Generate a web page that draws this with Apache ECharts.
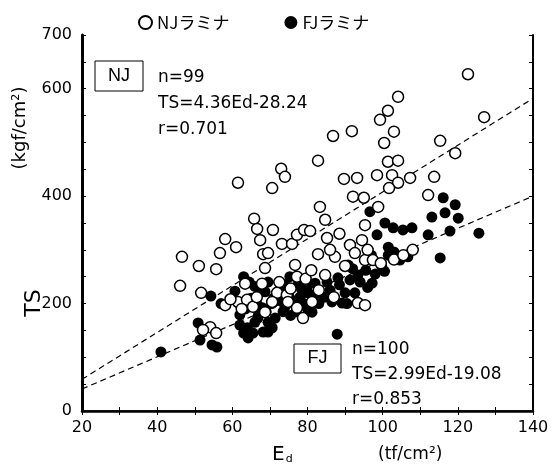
<!DOCTYPE html>
<html><head><meta charset="utf-8">
<script src="https://cdn.jsdelivr.net/npm/echarts@6/dist/echarts.min.js"></script>
<style>html,body{margin:0;padding:0;background:#fff}#c{width:554px;height:472px}</style>
</head><body><div id="c"></div>
<script>
// NJ laminae (open circles)
const njEd = [122.7,104.1,101.4,99.3,103.0,100.4,91.8,86.8,82.8,73.0,74.0,70.6,89.7,93.2,98.5,101.4,104.1,102.5,104.1,101.7,
  92.1,95.0,98.8,83.3,61.5,127.0,115.3,119.3,107.3,113.7,112.1,65.8,66.6,67.4,58.1,61.0,56.7,46.6,51.1,55.7,
  68.2,68.7,67.9,63.4,46.1,51.7,58.1,61.5,63.9,65.5,54.1,52.2,55.7,84.7,85.2,95.3,70.8,73.2,75.9,77.2,
  79.1,80.7,91.3,94.5,92.6,95.3,97.4,82.8,87.3,76.7,77.2,84.7,69.5,71.9,74.5,74.8,77.2,81.2,78.8,93.4,
  95.3,70.6,68.7,62.5,66.5,59.5,72.5,75.5,79.5,81.0,86.0,88.5,90.0,96.0,99.5,103.0,105.5,108.0,83.0,87.0];
const njTS = [627,585,559,542,520,499,521,512,466,451,436,415,432,434,439,464,466,439,425,415,
  399,397,380,380,425,547,503,480,434,436,402,358,339,318,320,305,294,287,270,264,
  292,266,237,237,233,220,197,203,207,194,156,151,145,356,322,346,337,311,311,328,
  337,335,309,318,294,281,281,292,287,272,250,253,294,220,216,203,192,203,173,201,
  197,203,184,190,212,208,240,228,246,262,300,330,270,300,275,282,290,300,225,212];
// FJ laminae (filled circles)
const fjEd = [116.1,119.3,116.6,113.1,120.1,105.4,107.8,112.1,117.9,125.6,106.7,104.6,115.3,96.6,100.6,102.8,98.5,103.0,99.8,97.2,
  90.8,88.1,91.3,93.4,90.0,86.5,89.2,92.6,75.3,77.5,79.9,82.0,80.1,82.8,85.2,74.0,72.2,68.7,69.5,71.4,
  70.6,69.5,87.9,81.2,74.0,54.3,60.7,50.9,51.4,54.6,55.9,64.2,41.0,62.0,66.8,68.2,63.0,64.5,66.0,67.5,
  65.0,66.5,68.0,69.0,63.5,62.0,64.0,66.0,67.0,69.5,70.5,71.0,65.5,63.0,73.0,75.0,76.5,78.0,79.0,80.0,
  83.0,84.5,86.0,77.0,75.5,73.5,78.5,81.5,94.0,95.5,96.0,98.0,100.5,92.0,88.5,97.0,101.5,90.5,57.0,101.5];
const fjTS = [397,384,369,361,359,337,341,328,335,331,287,281,285,371,350,341,328,296,268,238,
  272,248,244,253,220,203,201,220,250,235,231,238,220,220,240,235,222,222,240,173,
  155,147,143,184,194,214,223,164,132,123,119,136,110,179,173,147,250,240,232,225,
  210,200,192,185,190,160,155,165,180,165,200,210,145,145,205,215,205,212,200,190,
  200,212,225,185,178,185,225,210,240,262,230,255,260,265,235,290,290,200,200,305];
// regression lines (end points)
const njLineEd = [20, 140];
const njLineTS = [59, 582];
const fjLineEd = [20, 140];
const fjLineTS = [41, 400];
// tick labels
const xTickLabels = [20, 40, 60, 80, 100, 120, 140];
const yTickLabels = [0, 200, 400, 600, 700];

const zip = (a, b) => a.map((v, i) => [v, b[i]]);
const F = 'DejaVu Sans';
const chart = echarts.init(document.getElementById('c'), null, {renderer: 'canvas'});
const axisCommon = {type: 'value', splitLine: {show: false}};
chart.setOption({
  animation: false,
  backgroundColor: '#fff',
  grid: {left: 82, right: 21, top: 35, bottom: 61},
  legend: {
    data: ['NJラミナ', 'FJラミナ'], left: 133, top: 9, itemWidth: 13, itemHeight: 13, itemGap: 55,
    icon: 'circle',
    textStyle: {fontFamily: 'Noto Sans CJK JP', fontSize: 17, color: '#000'}
  },
  xAxis: [
    Object.assign({}, axisCommon, {
      min: 20, max: 140, interval: 10, position: 'bottom',
      axisLine: {lineStyle: {color: '#000', width: 2.5}},
      axisTick: {inside: true, length: 4, lineStyle: {color: '#000', width: 1}},
      axisLabel: {margin: 9, fontFamily: F, fontSize: 16, color: '#000',
        formatter: v => xTickLabels.includes(v) ? String(v) : ''}
    }),
    Object.assign({}, axisCommon, {
      min: 20, max: 140, interval: 10, position: 'top',
      axisLine: {lineStyle: {color: '#000', width: 1.5}},
      axisTick: {inside: true, length: 4, lineStyle: {color: '#000', width: 1}},
      axisLabel: {show: false}
    })
  ],
  yAxis: [
    Object.assign({}, axisCommon, {
      min: 0, max: 700, interval: 50, position: 'left',
      axisLine: {lineStyle: {color: '#000', width: 3}},
      axisTick: {inside: true, length: 4, lineStyle: {color: '#000', width: 1}},
      axisLabel: {margin: 10, fontFamily: F, fontSize: 16, color: '#000',
        formatter: v => yTickLabels.includes(v) ? String(v) : ''}
    }),
    Object.assign({}, axisCommon, {
      min: 0, max: 700, interval: 50, position: 'right',
      axisLine: {lineStyle: {color: '#000', width: 2}},
      axisTick: {inside: true, length: 4, lineStyle: {color: '#000', width: 1}},
      axisLabel: {show: false}
    })
  ],
  series: [
    {name: 'NJ line', type: 'line', data: zip(njLineEd, njLineTS), symbol: 'none', silent: true,
      lineStyle: {color: '#000', width: 1.2, type: [6, 4]}, z: 1},
    {name: 'FJ line', type: 'line', data: zip(fjLineEd, fjLineTS), symbol: 'none', silent: true,
      lineStyle: {color: '#000', width: 1.2, type: [6, 4]}, z: 1},
    {name: 'FJラミナ', type: 'scatter', data: zip(fjEd, fjTS), symbol: 'circle', symbolSize: 11,
      itemStyle: {color: '#000', opacity: 1}, z: 2},
    {name: 'NJラミナ', type: 'scatter', data: zip(njEd, njTS), symbol: 'circle', symbolSize: 11,
      itemStyle: {color: '#fff', borderColor: '#000', borderWidth: 1.5, opacity: 1}, z: 3}
  ],
  graphic: [
    {type: 'text', x: 20, y: 128, rotation: Math.PI / 2,
      style: {text: '(kgf/cm²)', font: '18px "DejaVu Sans"', fill: '#000', align: 'center', verticalAlign: 'middle'}},
    {type: 'text', x: 34, y: 303, rotation: Math.PI / 2,
      style: {text: 'TS', font: '22px "DejaVu Sans"', fill: '#000', align: 'center', verticalAlign: 'middle'}},
    {type: 'text', x: 272, y: 455,
      style: {text: '{e|E}{d|d}', fill: '#000', verticalAlign: 'middle',
        rich: {e: {fontSize: 20, fontFamily: F}, d: {fontSize: 11, fontFamily: F, verticalAlign: 'bottom', padding: [8, 0, 0, 1]}}}},
    {type: 'text', x: 378, y: 455,
      style: {text: '(tf/cm²)', font: '17px "DejaVu Sans"', fill: '#000', verticalAlign: 'middle'}},
    {type: 'rect', shape: {x: 95, y: 61, width: 48, height: 30}, style: {fill: 'none', stroke: '#000', lineWidth: 1}},
    {type: 'text', x: 119, y: 76, style: {text: 'NJ', font: '18px "Liberation Sans"', fill: '#000', align: 'center', verticalAlign: 'middle'}},
    {type: 'text', x: 158, y: 78, style: {text: 'n=99', font: '17px "DejaVu Sans"', fill: '#000', verticalAlign: 'middle'}},
    {type: 'text', x: 158, y: 104, style: {text: 'TS=4.36Ed-28.24', font: '17px "DejaVu Sans"', fill: '#000', verticalAlign: 'middle'}},
    {type: 'text', x: 158, y: 130, style: {text: 'r=0.701', font: '17px "DejaVu Sans"', fill: '#000', verticalAlign: 'middle'}},
    {type: 'rect', shape: {x: 294, y: 344, width: 47, height: 29}, style: {fill: 'none', stroke: '#000', lineWidth: 1}},
    {type: 'text', x: 317.5, y: 358.5, style: {text: 'FJ', font: '18px "Liberation Sans"', fill: '#000', align: 'center', verticalAlign: 'middle'}},
    {type: 'text', x: 352, y: 350, style: {text: 'n=100', font: '17px "DejaVu Sans"', fill: '#000', verticalAlign: 'middle'}},
    {type: 'text', x: 352, y: 375, style: {text: 'TS=2.99Ed-19.08', font: '17px "DejaVu Sans"', fill: '#000', verticalAlign: 'middle'}},
    {type: 'text', x: 352, y: 400, style: {text: 'r=0.853', font: '17px "DejaVu Sans"', fill: '#000', verticalAlign: 'middle'}}
  ]
});
</script></body></html>
